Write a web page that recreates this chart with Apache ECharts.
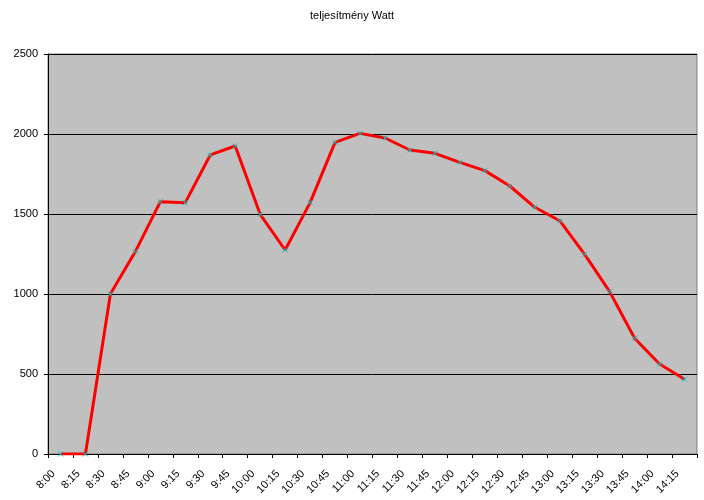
<!DOCTYPE html>
<html>
<head>
<meta charset="utf-8">
<script src="https://cdn.jsdelivr.net/npm/echarts@6/dist/echarts.min.js"></script>
<style>html,body{margin:0;padding:0;background:#fff}#c{width:704px;height:500px}</style>
</head>
<body>
<div id="c"></div>
<script>
var categories = ['8:00','8:15','8:30','8:45','9:00','9:15','9:30','9:45','10:00','10:15','10:30','10:45','11:00','11:15','11:30','11:45','12:00','12:15','12:30','12:45','13:00','13:15','13:30','13:45','14:00','14:15'];
var power = [0,0,1000,1265,1577,1571,1869,1925,1498,1275,1571,1948,2004,1975,1900,1879,1823,1771,1675,1542,1458,1248,1015,723,562,467];
var yTicks = {min:0, max:2500, interval:500};

var chart = echarts.init(document.getElementById('c'));
chart.setOption({
  animation:false,
  backgroundColor:'#ffffff',
  title:{text:'teljesítmény Watt', left:'center', top:5, textStyle:{fontFamily:'Liberation Sans, Arial', fontSize:11, fontWeight:'normal', color:'#000'}},
  grid:{left:48, right:7, top:54, bottom:46, show:true, backgroundColor:'#C0C0C0', borderColor:'#808080', borderWidth:1},
  xAxis:{type:'category', data:categories, boundaryGap:true,
    axisLine:{lineStyle:{color:'#000', width:1}},
    axisTick:{show:true, length:4, lineStyle:{color:'#000'}},
    axisLabel:{rotate:45, interval:0, margin:11, padding:[0,10,0,0], fontFamily:'Liberation Sans, Arial', fontSize:11, color:'#000'},
    splitLine:{show:false}},
  yAxis:{type:'value', min:yTicks.min, max:yTicks.max, interval:yTicks.interval,
    axisLine:{show:true, lineStyle:{color:'#000', width:1}},
    axisTick:{show:true, length:4, lineStyle:{color:'#000'}},
    axisLabel:{margin:10, formatter:function(v){return String(v);}, fontFamily:'Liberation Sans, Arial', fontSize:11, color:'#000'},
    splitLine:{show:true, lineStyle:{color:'#000', width:1}}},
  series:[{type:'line', data:power,
    lineStyle:{color:'#FF0000', width:3},
    symbol:'path://M0,0L10,10M10,0L0,10', symbolSize:5, showSymbol:true,
    itemStyle:{color:'#00FFFF', borderColor:'#00CCCC', borderWidth:1},
    z:3}]
});
</script>
</body>
</html>
